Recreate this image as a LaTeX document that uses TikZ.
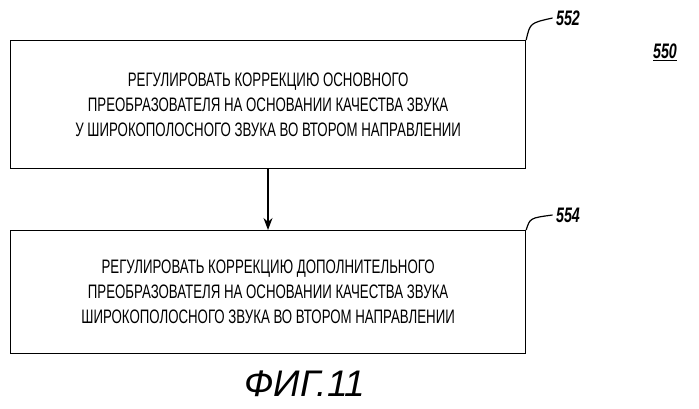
\documentclass[tikz,border=0pt]{standalone}
\usepackage{fontspec}
\setmainfont{Liberation Sans}
\newfontfamily\cond[FakeStretch=0.68]{Liberation Sans}
\usetikzlibrary{arrows.meta}
\begin{document}
\begin{tikzpicture}[x=1pt,y=1pt,
  box/.style={draw,line width=1.2pt,minimum width=515pt,anchor=north west,align=center,font=\cond\fontsize{19.5}{25}\selectfont},
  lbl/.style={font=\cond\bfseries\itshape\fontsize{21}{24}\selectfont}]
\useasboundingbox (0,0) rectangle (699,408);
\node[box,minimum height=128pt] (b1) at (10,368) {РЕГУЛИРОВАТЬ КОРРЕКЦИЮ ОСНОВНОГО\\ПРЕОБРАЗОВАТЕЛЯ НА ОСНОВАНИИ КАЧЕСТВА ЗВУКА\\У ШИРОКОПОЛОСНОГО ЗВУКА ВО ВТОРОМ НАПРАВЛЕНИИ};
\node[box,minimum height=123pt] (b2) at (10,178) {РЕГУЛИРОВАТЬ КОРРЕКЦИЮ ДОПОЛНИТЕЛЬНОГО\\ПРЕОБРАЗОВАТЕЛЯ НА ОСНОВАНИИ КАЧЕСТВА ЗВУКА\\ШИРОКОПОЛОСНОГО ЗВУКА ВО ВТОРОМ НАПРАВЛЕНИИ};
\draw[line width=1.2pt,-{Stealth[length=12pt,width=9pt]}] (268,240) -- (b2.north -| 268,0);
\node[lbl] (l1) at (568,390) {552};
\node[lbl] (l2) at (568,193) {554};
\draw[line width=1.2pt] (b1.north east) .. controls (530,385) .. (l1.west);
\draw[line width=1.2pt] (b2.north east) .. controls (530,190) .. (l2.west);
\node[lbl] (n550) at (665,356) {\underline{550}};
\node[font=\itshape\fontsize{37}{40}\selectfont] (fig) at (305,24) {ФИГ.11};
\end{tikzpicture}
\end{document}
